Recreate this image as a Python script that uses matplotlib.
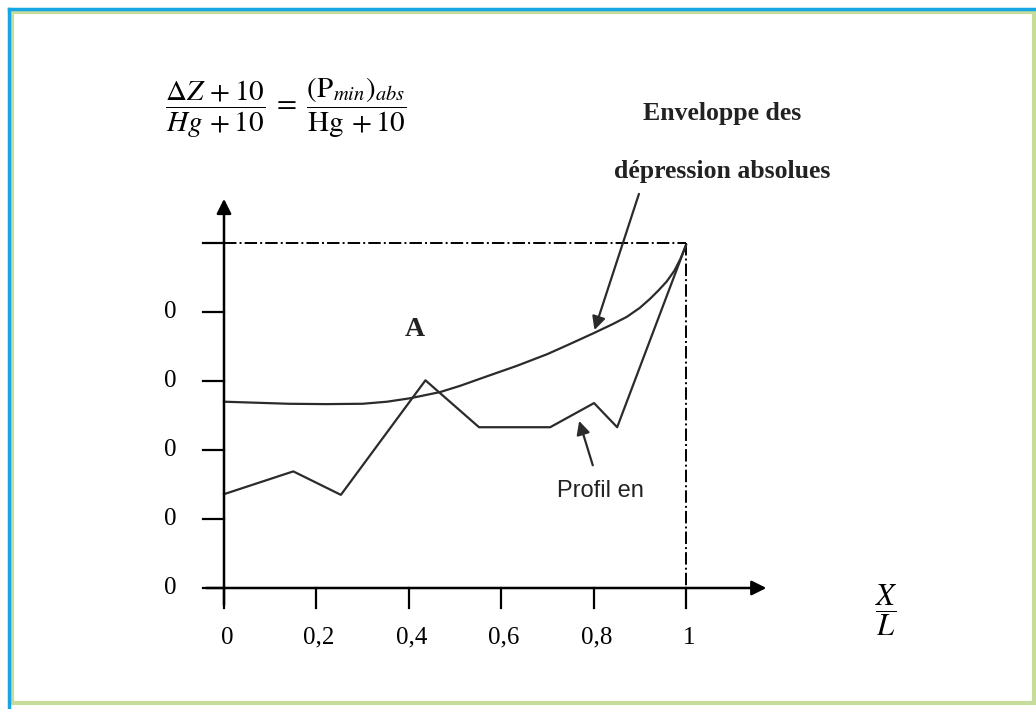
import numpy as np
import matplotlib.pyplot as plt
from matplotlib.lines import Line2D
from matplotlib.patches import Rectangle

plt.rcParams['mathtext.fontset'] = 'stix'

# Profil en long (polyligne)
profil_x = [0, 0.150, 0.253, 0.436, 0.552, 0.706, 0.801, 0.851, 1.0]
profil_y = [1.36, 1.69, 1.35, 3.01, 2.33, 2.33, 2.68, 2.33, 4.97]

# Enveloppe des dépressions absolues (lue point par point sur la courbe)
env_x = [0, 0.07, 0.14, 0.22, 0.30, 0.353, 0.403, 0.468, 0.511, 0.57, 0.634,
         0.70, 0.75, 0.799, 0.84, 0.872, 0.90, 0.922, 0.94, 0.958, 0.975, 0.988, 1.0]
env_y = [2.70, 2.685, 2.67, 2.665, 2.67, 2.70, 2.75, 2.84, 2.93, 3.07, 3.22,
         3.39, 3.54, 3.69, 3.82, 3.93, 4.06, 4.19, 4.31, 4.44, 4.60, 4.77, 4.97]

x_ticks = [0, 0.2, 0.4, 0.6, 0.8, 1.0]
x_labels = ['0', '0,2', '0,4', '0,6', '0,8', '1']
y_ticks = [0, 1, 2, 3, 4, 5]
y_labels = ['0', '0', '0', '0', '0', '']

W, H = 1036, 709
fig = plt.figure(figsize=(W / 100, H / 100), dpi=100)
ax = fig.add_axes([0, 0, 1, 1])

# échelle: origine au pixel (224, 588), 462 px par unité en x, 69 px par unité en y
x0, y0, sx, sy = 224, 588, 462, 69
ax.set_xlim(-x0 / sx, (W - x0) / sx)
ax.set_ylim((y0 - H) / sy, y0 / sy)
ax.axis('off')

col = '#2b2b2b'
lw = 1.6

# axes avec flèches
ax.annotate('', xy=(1.18, 0), xytext=(-0.045, 0),
            arrowprops=dict(arrowstyle='-|>', color='black', lw=1.8, mutation_scale=22))
ax.annotate('', xy=(0, 5.68), xytext=(0, -0.29),
            arrowprops=dict(arrowstyle='-|>', color='black', lw=1.8, mutation_scale=22))

# graduations
for xt, lab in zip(x_ticks, x_labels):
    ax.plot([xt, xt], [0, -0.29], color='black', lw=1.6)
    ax.text(xt + 0.006, -0.72, lab, ha='center', va='center', fontsize=18, family='Liberation Serif')
for yt, lab in zip(y_ticks, y_labels):
    ax.plot([-0.045, 0], [yt, yt], color='black', lw=1.6)
    if lab:
        ax.text(-0.117, yt, lab, ha='center', va='center', fontsize=18, family='Liberation Serif')

# lignes de repère en tirets-points
ax.plot([0, 1], [5, 5], color='black', lw=1.4, linestyle='-.')
ax.plot([1, 1], [5, 0], color='black', lw=1.4, linestyle='-.')

# courbes
ax.plot(env_x, env_y, color=col, lw=lw, solid_joinstyle='round')
ax.plot(profil_x, profil_y, color=col, lw=lw)

# annotations
ax.annotate('', xy=(0.80, 3.70), xytext=(0.90, 5.75),
            arrowprops=dict(arrowstyle='-|>', color=col, lw=1.6, mutation_scale=20))
ax.annotate('', xy=(0.767, 2.46), xytext=(0.80, 1.74),
            arrowprops=dict(arrowstyle='-|>', color=col, lw=1.6, mutation_scale=20))

ax.text(1.078, 6.88, 'Enveloppe des', ha='center', va='center', fontsize=18.5,
        family='Liberation Serif', weight='bold', color='#222222')
ax.text(1.078, 6.03, 'dépression absolues', ha='center', va='center', fontsize=18.5,
        family='Liberation Serif', weight='bold', color='#222222')
ax.text(0.413, 3.74, 'A', ha='center', va='center', fontsize=20,
        family='Liberation Serif', weight='bold', color='#222222')
ax.text(0.814, 1.40, 'Profil en', ha='center', va='center', fontsize=17,
        family=['Liberation Sans Narrow', 'Liberation Sans'], color='#222222')

ax.text(0.135, 6.96,
        r'$\dfrac{\Delta Z\,+10}{Hg\,+10}\;=\;\dfrac{(\mathrm{P}_{min})_{abs}}{\mathrm{Hg}\,+10}$',
        ha='center', va='center', fontsize=21)
ax.text(1.433, -0.32, r'$\dfrac{X}{L}$', ha='center', va='center', fontsize=22)

# cadres
fig.patches.append(Rectangle((12 / W, 1 - 703 / H), (1034 - 12) / W, (703 - 12) / H,
                             transform=fig.transFigure, fill=False,
                             edgecolor='#c6dc9a', lw=3))
fig.lines.append(Line2D([8.5 / W, 8.5 / W], [0, 1 - 8.5 / H], transform=fig.transFigure,
                        color='#17a6e4', lw=2.5))
fig.lines.append(Line2D([8.5 / W, 1], [1 - 8.5 / H, 1 - 8.5 / H], transform=fig.transFigure,
                        color='#17a6e4', lw=2.5))

fig.savefig('out.png', dpi=100)
